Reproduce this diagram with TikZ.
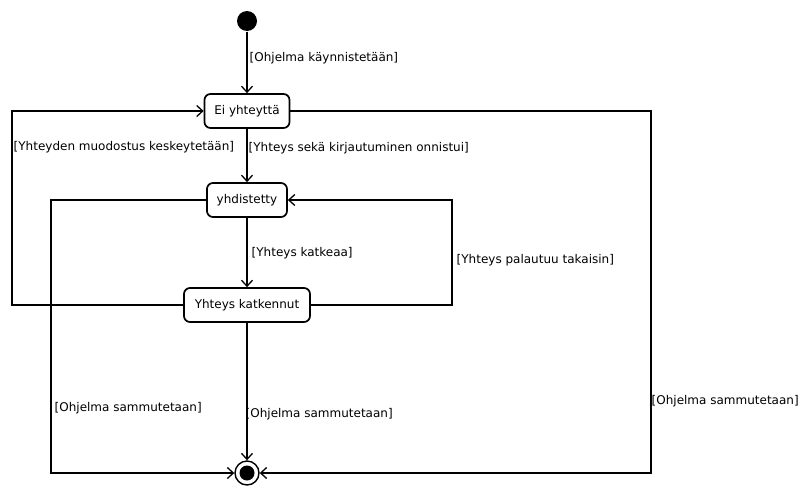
\documentclass[tikz,border=0pt]{standalone}
\usepackage{fontspec}
\setmainfont{DejaVu Sans}
\usetikzlibrary{arrows.meta}
\begin{document}
\begin{tikzpicture}[x=1pt,y=-1pt,
  line width=1.4pt,
  state/.style={draw,line width=1.7pt,rounded corners=6pt,minimum height=34pt,inner sep=0pt,font=\fontsize{12}{14}\selectfont,fill=white},
  lbl/.style={anchor=west,inner sep=0pt,font=\fontsize{12}{14}\selectfont},
  arr/.style={-{Straight Barb[length=6pt,width=11pt,line width=1.3pt]}},
]
\useasboundingbox (0,0) rectangle (799,485);
\node[circle,fill=black,minimum size=20pt,inner sep=0pt] (init) at (247,21) {};
\node[state,minimum width=85pt] (ei) at (247,111) {Ei yhteyttä};
\node[state,minimum width=80pt] (yh) at (247,200) {yhdistetty};
\node[state,minimum width=126pt] (kat) at (247,305) {Yhteys katkennut};
\node[circle,draw,fill=white,minimum size=24pt,inner sep=0pt] (fin) at (247,473) {};
\node[circle,fill=black,minimum size=15pt,inner sep=0pt] (fini) at (247,473) {};

\coordinate (l1) at (12,305);
\coordinate (l2) at (12,111);
\coordinate (r1) at (651,111);
\coordinate (r2) at (651,473);
\coordinate (m1) at (51,200);
\coordinate (m2) at (51,473);
\coordinate (p1) at (452,305);
\coordinate (p2) at (452,200);

\draw[arr] (init) -- (ei);
\draw[arr] (ei) -- (yh);
\draw[arr] (yh) -- (kat);
\draw[arr] (kat) -- (fin);
\draw[arr] (kat.west) -- (l1) -- (l2) -- (ei.west);
\draw[arr] (ei.east) -- (r1) -- (r2) -- (fin.east);
\draw[arr] (yh.west) -- (m1) -- (m2) -- (fin.west);
\draw[arr] (kat.east) -- (p1) -- (p2) -- (yh.east);

\node[lbl] (t1) at (249,58) {[Ohjelma käynnistetään]};
\node[lbl] (t2) at (13,147) {[Yhteyden muodostus keskeytetään]};
\node[lbl] (t3) at (248,148) {[Yhteys sekä kirjautuminen onnistui]};
\node[lbl] (t4) at (251,253) {[Yhteys katkeaa]};
\node[lbl] (t5) at (456,260) {[Yhteys palautuu takaisin]};
\node[lbl] (t6) at (54,408) {[Ohjelma sammutetaan]};
\node[lbl] (t7) at (245,414) {[Ohjelma sammutetaan]};
\node[lbl] (t8) at (651,401) {[Ohjelma sammutetaan]};
\end{tikzpicture}
\end{document}
